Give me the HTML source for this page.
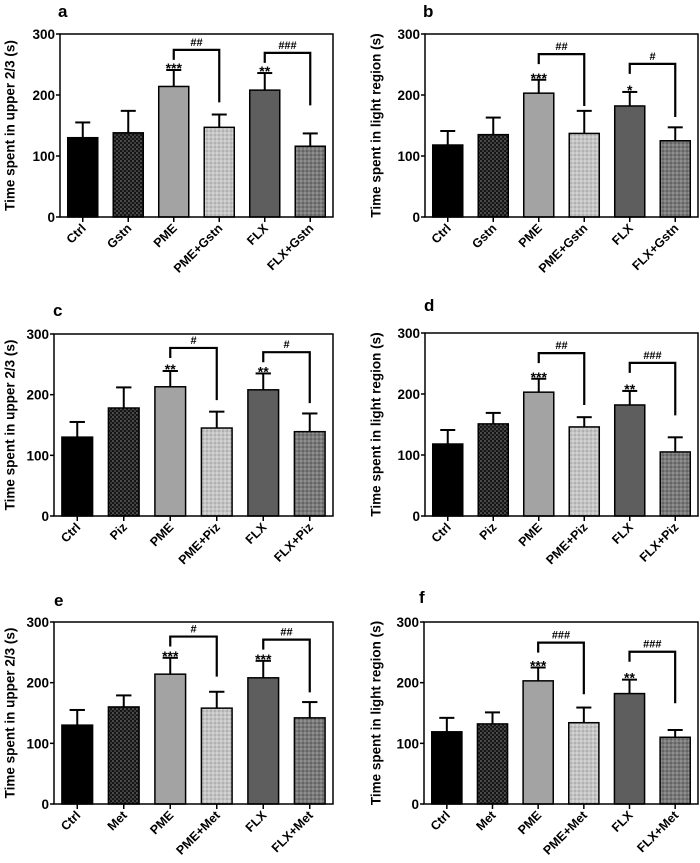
<!DOCTYPE html>
<html><head><meta charset="utf-8">
<style>
html,body{margin:0;padding:0;background:#fff;}
svg{display:block;font-family:"Liberation Sans",Arial,sans-serif;}
</style></head>
<body>
<svg id="fig" width="700" height="863" viewBox="0 0 700 863">
<defs>
<pattern id="pDark" width="4" height="4" patternUnits="userSpaceOnUse"><rect width="4" height="4" fill="#151515"/><circle cx="1" cy="1" r="0.8" fill="#8a8a8a"/><circle cx="3" cy="3" r="0.8" fill="#6a6a6a"/></pattern>
<pattern id="pLight" width="4" height="4" patternUnits="userSpaceOnUse"><rect width="4" height="4" fill="#c4c4c4"/><circle cx="1" cy="1" r="0.8" fill="#e6e6e6"/><circle cx="3" cy="3" r="0.8" fill="#9a9a9a"/></pattern>
<pattern id="pMid" width="4" height="4" patternUnits="userSpaceOnUse"><rect width="4" height="4" fill="#7a7a7a"/><circle cx="1" cy="1" r="0.8" fill="#a8a8a8"/><circle cx="3" cy="3" r="0.8" fill="#4a4a4a"/></pattern>
</defs>
</svg>
<script>
// ---- data ----
const panelLetters = ["a","b","c","d","e","f"];
const yTitles = ["Time spent in upper 2/3 (s)","Time spent in light region (s)","Time spent in upper 2/3 (s)","Time spent in light region (s)","Time spent in upper 2/3 (s)","Time spent in light region (s)"];
const catsA = ["Ctrl","Gstn","PME","PME+Gstn","FLX","FLX+Gstn"];
const catsC = ["Ctrl","Piz","PME","PME+Piz","FLX","FLX+Piz"];
const catsE = ["Ctrl","Met","PME","PME+Met","FLX","FLX+Met"];
const meansA = [130,138,214,147,208,116];
const errsA  = [25,36,27,21,28,21];
const meansB = [118,135,203,137,182,125];
const errsB  = [23,28,22,37,23,22];
const meansC = [130,178,213,145,208,139];
const errsC  = [25,34,26,27,27,30];
const meansD = [118,151,203,146,182,105];
const errsD  = [23,18,22,16,23,24];
const meansE = [130,160,214,158,208,142];
const errsE  = [25,19,27,27,28,26];
const meansF = [119,132,203,134,182,110];
const errsF  = [23,19,22,25,23,12];
const starsA = ["***","**"], starsB = ["***","*"], starsC = ["**","**"], starsD = ["***","**"], starsE = ["***","***"], starsF = ["***","**"];
// brackets: [top value, right drop value] for PME pair and FLX pair
const brA = [[274,188],[269,183]], brB = [[267,182],[251,164]], brC = [[277,191],[270,186]];
const brD = [[267,182],[251,165]], brE = [[276,210],[271,184]], brF = [[266,181],[251,166]];
const hashA = ["##","###"], hashB = ["##","#"], hashC = ["#","#"], hashD = ["##","###"], hashE = ["#","##"], hashF = ["###","###"];
const yTicks = [0,100,200,300];

// ---- layout ----
const layouts = [
 {l:60,r:333,t:34,b:217,lx:58,ly:17,tx:10},
 {l:425,r:698,t:34,b:217,lx:423,ly:17,tx:376},
 {l:54,r:333,t:334,b:516,lx:53,ly:316,tx:10},
 {l:425,r:698,t:333,b:516,lx:424,ly:311,tx:376},
 {l:54,r:333,t:622,b:804,lx:54,ly:606,tx:10},
 {l:424,r:698,t:622,b:804,lx:419,ly:603,tx:376}
];
const cats = [catsA,catsA,catsC,catsC,catsE,catsE];
const means = [meansA,meansB,meansC,meansD,meansE,meansF];
const errs = [errsA,errsB,errsC,errsD,errsE,errsF];
const stars = [starsA,starsB,starsC,starsD,starsE,starsF];
const brs = [brA,brB,brC,brD,brE,brF];
const hashes = [hashA,hashB,hashC,hashD,hashE,hashF];
const fills = ["#000","url(#pDark)","#a3a3a3","url(#pLight)","#5e5e5e","url(#pMid)"];

const NS="http://www.w3.org/2000/svg";
const svg=document.getElementById("fig");
function mk(tag,attrs,parent){const e=document.createElementNS(NS,tag);for(const k in attrs)e.setAttribute(k,attrs[k]);(parent||svg).appendChild(e);return e;}

for(let p=0;p<6;p++){
 const L=layouts[p];
 const g=mk("g",{});
 
 
 const y=v=>L.b-(v/300)*(L.b-L.t);
 const band=(L.r-L.l)/6;
 const x=i=>L.l+band*(i+0.5);
 const bw=band*0.66;
 const lt=mk("text",{x:L.lx,y:L.ly,"font-size":17,"font-weight":"bold"},g);lt.textContent=panelLetters[p];
 
 
 // y title
 const yt=mk("text",{x:L.tx,y:(L.t+L.b)/2,"font-size":13.5,"font-weight":"bold","text-anchor":"middle",transform:`rotate(-90 ${L.tx} ${(L.t+L.b)/2})`,dy:"0.35em"},g);yt.textContent=yTitles[p];
 
 
 // ticks
 for(const tv of yTicks){
  const tl=mk("line",{x1:L.l-4,x2:L.l,y1:y(tv),y2:y(tv),stroke:"#000","stroke-width":1.5},g);
  
  
  const tt=mk("text",{x:L.l-5,y:y(tv)+5,"font-size":13.5,"font-weight":"bold","text-anchor":"end"},g);tt.textContent=tv;
  
  
 }
 // bars
 for(let i=0;i<6;i++){
  const m=means[p][i],e=errs[p][i],cx=x(i);
  const er=mk("line",{x1:cx,x2:cx,y1:y(m),y2:y(m+e),stroke:"#000","stroke-width":2},g);
  
  
  const ec=mk("line",{x1:cx-bw/4,x2:cx+bw/4,y1:y(m+e),y2:y(m+e),stroke:"#000","stroke-width":2},g);
  
  
  const r=mk("rect",{x:cx-bw/2,y:y(m),width:bw,height:y(0)-y(m),fill:fills[i],stroke:"#000","stroke-width":1.5},g);
  
  
  const xt=mk("line",{x1:cx,x2:cx,y1:L.b,y2:L.b+5,stroke:"#000","stroke-width":1.5},g);
  
  
  const xl=mk("text",{x:cx+4,y:L.b+12,"font-size":12.5,"font-weight":"bold","text-anchor":"end",transform:`rotate(-45 ${cx+4} ${L.b+12})`},g);xl.textContent=cats[p][i];
  
  
 }
 // frame
 const fr=mk("rect",{x:L.l,y:L.t,width:L.r-L.l,height:L.b-L.t,fill:"none",stroke:"#000","stroke-width":1.5},g);
 
 
 // stars & brackets
 for(let k=0;k<2;k++){
  const i=2+2*k, j=i+1, cx=x(i), cx2=x(j);
  const st=mk("text",{x:cx,y:y(means[p][i]+errs[p][i])+3,"font-size":14,"font-weight":"bold","text-anchor":"middle"},g);st.textContent=stars[p][k];
  
  
  const bt=brs[p][k][0], bd=brs[p][k][1];
  const pl=mk("polyline",{points:`${cx},${y(bt)+10} ${cx},${y(bt)} ${cx2},${y(bt)} ${cx2},${y(bd)}`,fill:"none",stroke:"#000","stroke-width":2.2},g);
  
  
  const ht=mk("text",{x:(cx+cx2)/2,y:y(bt)-4,"font-size":11,"font-weight":"bold","text-anchor":"middle"},g);ht.textContent=hashes[p][k];
  
  
 }
}
</script>
</body></html>
